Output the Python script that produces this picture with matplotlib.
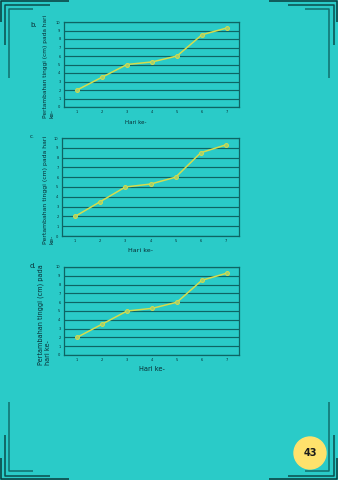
import matplotlib
matplotlib.use("Agg")
import matplotlib.pyplot as plt
from matplotlib.lines import Line2D
from matplotlib.patches import Circle

# Data: daily growth of plant height
days = [1, 2, 3, 4, 5, 6, 7]
growth = [2.0, 3.5, 5.0, 5.3, 6.0, 8.5, 9.3]
y_ticks = list(range(0, 11))
x_label = "Hari ke-"
panel_letters = ["b.", "c.", "d."]
y_labels = [
    "Pertambahan tinggi (cm) pada hari\nke-",
    "Pertambahan tinggi (cm) pada hari\nke-",
    "Pertambahan tinggi (cm) pada\nhari ke-",
]
page_number = "43"

W, H = 338, 480
BG = "#2acbc8"
GRID = "#0e6464"
LINE = "#d6dc4c"
TEXT = "#082c33"

fig = plt.figure(figsize=(W / 100, H / 100), dpi=100, facecolor=BG)


def px_axes(x0, y0, x1, y1):
    """Axes placed by pixel box (top-left origin)."""
    return fig.add_axes([x0 / W, 1 - y1 / H, (x1 - x0) / W, (y1 - y0) / H])


# pixel layout for each panel: axes box, xlim, ylabel pos, xlabel pos, letter pos, font sizes
panels = [
    dict(box=(64, 22, 239, 107), xlim=(0.48, 7.48), ylab=(49, 118), xlab=(136, 122),
         letter=(30, 25), yfs=4.2, xfs=4.0, lfs=5.0),
    dict(box=(62, 138, 239, 236), xlim=(0.48, 7.52), ylab=(49, 244), xlab=(141, 250),
         letter=(30, 136), yfs=4.4, xfs=4.6, lfs=4.0),
    dict(box=(64, 267, 239, 355), xlim=(0.48, 7.48), ylab=(44, 365), xlab=(152, 369),
         letter=(30, 266), yfs=4.7, xfs=4.8, lfs=5.0),
]

for p, letter, ylab in zip(panels, panel_letters, y_labels):
    ax = px_axes(*p["box"])
    ax.set_facecolor(BG)
    ax.set_xlim(*p["xlim"])
    ax.set_ylim(0, 10)
    ax.set_xticks(days)
    ax.set_yticks(y_ticks)
    ax.tick_params(length=0, labelsize=2.6, colors=TEXT, pad=2.5)
    for yv in y_ticks:
        ax.axhline(yv, color=GRID, lw=0.85, zorder=1)
    for s in ax.spines.values():
        s.set_color(GRID)
        s.set_linewidth(0.9)
    ax.plot(days, growth, color=LINE, lw=1.1, marker="o", ms=2.8,
            mfc="#9fcf70", mec=LINE, mew=0.7, zorder=3)

    fig.text(p["ylab"][0] / W, 1 - p["ylab"][1] / H, ylab, rotation=90,
             ha="center", va="bottom", multialignment="left",
             fontsize=p["yfs"], color=TEXT, linespacing=1.25)
    fig.text(p["xlab"][0] / W, 1 - p["xlab"][1] / H, x_label,
             ha="center", va="center", fontsize=p["xfs"], color=TEXT)
    fig.text(p["letter"][0] / W, 1 - p["letter"][1] / H, letter,
             ha="left", va="center", fontsize=p["lfs"], color=TEXT)

# page frame: nested corner brackets
deco = fig.add_axes([0, 0, 1, 1], zorder=-1)
deco.set_xlim(0, W)
deco.set_ylim(H, 0)
deco.axis("off")

brackets = [
    # (offset from edge, horizontal length end, vertical end, color)
    (0.8, 69, 22, "#093c3c"),
    (4.5, 50, 45, "#0a4d4d"),
    (9.0, 33, 78, "#116f6d"),
]
for off, hend, vend, col in brackets:
    for sx in (0, 1):
        for sy in (0, 1):
            x0 = off if sx == 0 else W - off
            xh = hend if sx == 0 else W - hend
            y0 = off if sy == 0 else H - off
            yv = vend if sy == 0 else H - vend
            deco.add_line(Line2D([xh, x0, x0], [y0, y0, yv], color=col,
                                 lw=1.1, solid_capstyle="butt"))

# page number badge
deco.add_patch(Circle((310, 453), 16, color="#ffe26c", zorder=3))
deco.text(310, 453, page_number, ha="center", va="center", fontsize=7,
          fontweight="bold", color="#1a1a1a", zorder=4)

fig.savefig("out.png", dpi=100, facecolor=BG)
